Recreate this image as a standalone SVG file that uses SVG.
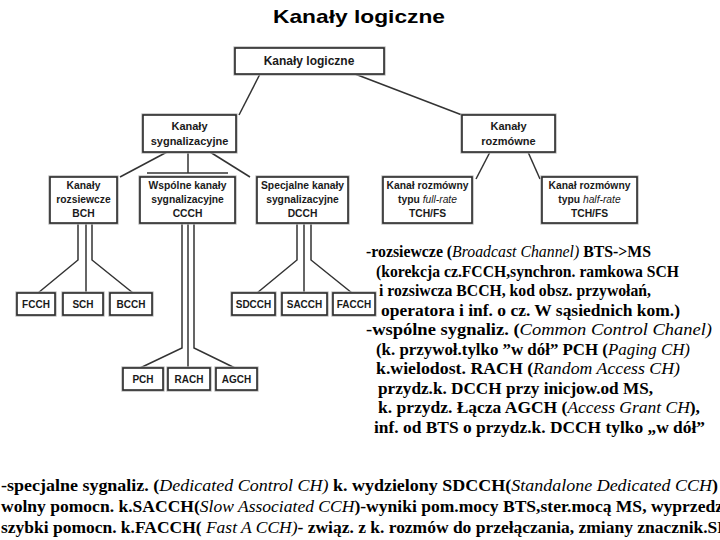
<svg xmlns="http://www.w3.org/2000/svg" width="720" height="540" viewBox="0 0 720 540">
<style>
.bx{fill:#fff;stroke:#2a2a2a;stroke-width:1.6}
.sh{fill:none;stroke:#b0b0b0;stroke-width:3.2}
.t{font-family:"Liberation Sans",Arial,sans-serif;font-weight:bold;fill:#1a1a1a;text-anchor:middle}
.t12{font-size:12px}.t11{font-size:11px}.t10{font-size:10.3px}.t9{font-size:10px}
.ln{fill:none;stroke:#333;stroke-width:1.5}
.tx{font-family:"Liberation Serif","Times New Roman",serif;font-size:17px;fill:#000}
.bt{font-size:17.5px}
.b{font-weight:bold}
.i{font-style:italic;font-weight:normal}
.title{font-family:"Liberation Sans",Arial,sans-serif;font-weight:bold;font-size:19px;fill:#000}
</style>
<rect width="720" height="540" fill="#fff"/>
<text class="title" x="273" y="23" textLength="172" lengthAdjust="spacingAndGlyphs">Kanały logiczne</text>

<g id="connectors">
<polyline class="ln" points="260,74 239,115"/>
<polyline class="ln" points="355,74 462,115"/>
<polyline class="ln" points="167,152 120,177"/>
<polyline class="ln" points="188,152 188,173"/>
<polyline class="ln" points="147,173 228,173"/>
<polyline class="ln" points="210,152 250,177"/>
<polyline class="ln" points="490,152 476,179"/>
<polyline class="ln" points="528,152 540,179"/>
<polyline class="ln" points="78,223 78,260 38,293"/>
<polyline class="ln" points="86,223 86,293"/>
<polyline class="ln" points="92,223 92,260 133,293"/>
<polyline class="ln" points="297,223 297,260 257,293"/>
<polyline class="ln" points="304,223 304,293"/>
<polyline class="ln" points="311,223 311,260 352,293"/>
<polyline class="ln" points="182,223 182,348 140,368"/>
<polyline class="ln" points="188,223 188,368"/>
<polyline class="ln" points="194,223 194,348 235,368"/>
</g>

<g id="n_logiczne"><rect class="sh" x="235" y="48" width="149" height="26"/><rect class="bx" x="235" y="48" width="149" height="26"/><text class="t t12" x="309" y="65">Kanały logiczne</text></g>
<g id="n_sygn"><rect class="sh" x="143" y="115" width="93" height="37"/><rect class="bx" x="143" y="115" width="93" height="37"/><text class="t t11" x="189.5" y="130">Kanały</text><text class="t t11" x="189.5" y="145">sygnalizacyjne</text></g>
<g id="n_rozm"><rect class="sh" x="462" y="115" width="93" height="37"/><rect class="bx" x="462" y="115" width="93" height="37"/><text class="t t11" x="508.5" y="130">Kanały</text><text class="t t11" x="508.5" y="145">rozmówne</text></g>

<g id="n_bch"><rect class="sh" x="50" y="177" width="67" height="46"/><rect class="bx" x="50" y="177" width="67" height="46"/><text class="t t10" x="83.5" y="189">Kanały</text><text class="t t10" x="83.5" y="203">rozsiewcze</text><text class="t t10" x="83.5" y="217">BCH</text></g>
<g id="n_ccch"><rect class="sh" x="140" y="177" width="95" height="46"/><rect class="bx" x="140" y="177" width="95" height="46"/><text class="t t10" x="187.5" y="189">Wspólne kanały</text><text class="t t10" x="187.5" y="203">sygnalizacyjne</text><text class="t t10" x="187.5" y="217">CCCH</text></g>
<g id="n_dcch"><rect class="sh" x="257" y="177" width="91" height="46"/><rect class="bx" x="257" y="177" width="91" height="46"/><text class="t t10" x="302.5" y="189">Specjalne kanały</text><text class="t t10" x="302.5" y="203">sygnalizacyjne</text><text class="t t10" x="302.5" y="217">DCCH</text></g>
<g id="n_full"><rect class="sh" x="383" y="177" width="89" height="46"/><rect class="bx" x="383" y="177" width="89" height="46"/><text class="t t10" x="427.5" y="189">Kanał rozmówny</text><text class="t t10" x="427.5" y="203">typu <tspan font-style="italic" font-weight="normal">full-rate</tspan></text><text class="t t10" x="427.5" y="217">TCH/FS</text></g>
<g id="n_half"><rect class="sh" x="542" y="177" width="95" height="46"/><rect class="bx" x="542" y="177" width="95" height="46"/><text class="t t10" x="589.5" y="189">Kanał rozmówny</text><text class="t t10" x="589.5" y="203">typu <tspan font-style="italic" font-weight="normal">half-rate</tspan></text><text class="t t10" x="589.5" y="217">TCH/FS</text></g>

<g id="n_fcch"><rect class="sh" x="17" y="293" width="38" height="22"/><rect class="bx" x="17" y="293" width="38" height="22"/><text class="t t9" x="36" y="308">FCCH</text></g>
<g id="n_sch"><rect class="sh" x="63" y="293" width="40" height="22"/><rect class="bx" x="63" y="293" width="40" height="22"/><text class="t t9" x="83" y="308">SCH</text></g>
<g id="n_bcch"><rect class="sh" x="110" y="293" width="42" height="22"/><rect class="bx" x="110" y="293" width="42" height="22"/><text class="t t9" x="131" y="308">BCCH</text></g>
<g id="n_sdcch"><rect class="sh" x="232" y="293" width="43" height="22"/><rect class="bx" x="232" y="293" width="43" height="22"/><text class="t t9" x="253.5" y="308">SDCCH</text></g>
<g id="n_sacch"><rect class="sh" x="282" y="293" width="45" height="22"/><rect class="bx" x="282" y="293" width="45" height="22"/><text class="t t9" x="304.5" y="308">SACCH</text></g>
<g id="n_facch"><rect class="sh" x="333" y="293" width="42" height="22"/><rect class="bx" x="333" y="293" width="42" height="22"/><text class="t t9" x="354" y="308">FACCH</text></g>
<g id="n_pch"><rect class="sh" x="123" y="368" width="40" height="22"/><rect class="bx" x="123" y="368" width="40" height="22"/><text class="t t9" x="143" y="383">PCH</text></g>
<g id="n_rach"><rect class="sh" x="168" y="368" width="42" height="22"/><rect class="bx" x="168" y="368" width="42" height="22"/><text class="t t9" x="189" y="383">RACH</text></g>
<g id="n_agch"><rect class="sh" x="216" y="368" width="41" height="22"/><rect class="bx" x="216" y="368" width="41" height="22"/><text class="t t9" x="236.5" y="383">AGCH</text></g>

<g id="desc" class="tx">
<text x="366" y="257" textLength="285" lengthAdjust="spacingAndGlyphs"><tspan class="b">-rozsiewcze (</tspan><tspan class="i">Broadcast Channel)</tspan><tspan class="b"> BTS-&gt;MS</tspan></text>
<text x="376" y="277" class="b" textLength="303" lengthAdjust="spacingAndGlyphs">(korekcja cz.FCCH,synchron. ramkowa SCH</text>
<text x="379" y="296" class="b" textLength="272" lengthAdjust="spacingAndGlyphs">i rozsiwcza BCCH, kod obsz. przywołań,</text>
<text x="381" y="316" class="b" textLength="299" lengthAdjust="spacingAndGlyphs">operatora i inf. o cz. W sąsiednich kom.)</text>
<text x="366" y="335" textLength="346" lengthAdjust="spacingAndGlyphs"><tspan class="b">-wspólne sygnaliz. (</tspan><tspan class="i">Common Control Chanel)</tspan></text>
<text x="376" y="355" class="b" textLength="314" lengthAdjust="spacingAndGlyphs">(k. przywoł.tylko ”w dół” PCH (<tspan class="i">Paging CH)</tspan></text>
<text x="376" y="374" class="b" textLength="304" lengthAdjust="spacingAndGlyphs">k.wielodost. RACH (<tspan class="i">Random Access CH)</tspan></text>
<text x="378" y="394" class="b" textLength="275" lengthAdjust="spacingAndGlyphs">przydz.k. DCCH przy inicjow.od MS,</text>
<text x="378" y="413" class="b" textLength="322" lengthAdjust="spacingAndGlyphs">k. przydz. Łącza AGCH (<tspan class="i">Access Grant CH</tspan>),</text>
<text x="374" y="433" class="b" textLength="331" lengthAdjust="spacingAndGlyphs">inf. od BTS o przydz.k. DCCH tylko „w dół”</text>
<text x="1" y="491" class="bt" textLength="717" lengthAdjust="spacingAndGlyphs"><tspan class="b">-specjalne sygnaliz. (</tspan><tspan class="i">Dedicated Control CH)</tspan><tspan class="b"> k. wydzielony SDCCH(</tspan><tspan class="i">Standalone Dedicated CCH</tspan><tspan class="b">)</tspan></text>
<text x="1" y="512" class="bt" textLength="722" lengthAdjust="spacingAndGlyphs"><tspan class="b">wolny pomocn. k.SACCH(</tspan><tspan class="i">Slow Associated CCH</tspan><tspan class="b">)-wyniki pom.mocy BTS,ster.mocą MS, wyprzedz</tspan></text>
<text x="1" y="533" class="bt" textLength="727" lengthAdjust="spacingAndGlyphs"><tspan class="b">szybki pomocn. k.FACCH( </tspan><tspan class="i">Fast A CCH)</tspan><tspan class="b">- związ. z k. rozmów do przełączania, zmiany znacznik.SF</tspan></text>
</g>
</svg>
